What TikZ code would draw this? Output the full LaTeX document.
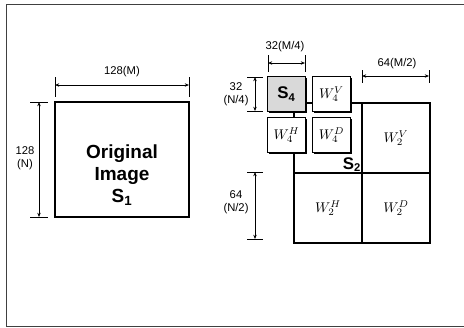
\documentclass[tikz,border=0pt]{standalone}
\usepackage{amsmath}
\usepackage{fontspec}
\setsansfont{Liberation Sans}
\usepackage{tikz}
\usetikzlibrary{arrows.meta,shadows,positioning}

\begin{document}
\begin{tikzpicture}[
    x=0.25mm, y=-0.25mm,
    >={Stealth[length=3pt,width=2.4pt]},
    line width=0.5pt,
    quad/.style={draw, line width=1.3pt, minimum width=17mm, minimum height=17.5mm, inner sep=0pt,
                 font=\fontsize{10}{12}\selectfont},
    subquad/.style={draw, fill=white, line width=0.6pt, minimum width=9.5mm, minimum height=8.75mm,
                 inner sep=0pt, font=\fontsize{10}{12}\selectfont,
                 drop shadow={shadow xshift=0.4mm, shadow yshift=-0.4mm, fill=black, opacity=1}},
    dimtext/.style={font=\sffamily\fontsize{8}{9.5}\selectfont, align=center, inner sep=0pt},
    bold/.style={font=\sffamily\bfseries\fontsize{13.5}{15.5}\selectfont, align=center, inner sep=0pt}
]
  \useasboundingbox (0,0) rectangle (464,327);
  % frame
  \draw[black!75, line width=0.6pt] (464,4) -- (6,4) -- (6,326) -- (464,326);

  % original image
  \node[draw, line width=1.4pt, minimum width=33.5mm, minimum height=28.75mm] (orig) at (122,159.5) {};
  \node[bold] (origtext) at (122,175) {Original\\Image\\S\textsubscript{1}};

  % level 2
  \node[quad] (S2)  at (328,138) {};
  \node[quad] (W2V) at (396,138) {$W^{V}_{2}$};
  \node[quad] (W2H) at (328,208) {$W^{H}_{2}$};
  \node[quad] (W2D) at (396,208) {$W^{D}_{2}$};
  \node[bold, font=\sffamily\bfseries\fontsize{12}{14}\selectfont, anchor=south east] (S2text)
      at ([xshift=-0.4mm, yshift=0.5mm]S2.south east) {S\textsubscript{2}};

  % level 4
  \node[subquad, fill=black!15] (S4) at (286.5,94) {\sffamily\bfseries\fontsize{12}{14}\selectfont S\textsubscript{4}};
  \node[subquad] (W4V) at (331.5,94)  {$W^{V}_{4}$};
  \node[subquad] (W4H) at (286.5,135) {$W^{H}_{4}$};
  \node[subquad] (W4D) at (331.5,135) {$W^{D}_{4}$};

  % dimensions of the original image
  \coordinate (mL) at (55,85);
  \coordinate (mR) at (189,85);
  \draw ([yshift=2mm]mL) -- ([yshift=-3mm]mL);
  \draw ([yshift=2mm]mR) -- ([yshift=-3mm]mR);
  \draw[<->] (mL) -- (mR);
  \node[dimtext] (mtext) at (122,72) {128(M)};

  \coordinate (nT) at (39,102);
  \coordinate (nB) at (39,217);
  \draw ([xshift=-2.25mm]nT) -- ([xshift=2.25mm]nT);
  \draw ([xshift=-2.25mm]nB) -- ([xshift=2.25mm]nB);
  \draw[<->] (nT) -- (nB);
  \node[dimtext] (ntext) at (25,158) {128\\(N)};

  % dimensions of the sub-bands
  \coordinate (m4L) at (268,63);
  \coordinate (m4R) at (305,63);
  \draw ([yshift=2mm]m4L) -- ([yshift=-2.25mm]m4L);
  \draw ([yshift=2mm]m4R) -- ([yshift=-2.25mm]m4R);
  \draw[<->] (m4L) -- (m4R);
  \node[dimtext] (m4text) at (285,47) {32(M/4)};

  \coordinate (n4T) at (255,77);
  \coordinate (n4B) at (255,111);
  \draw ([xshift=-2mm]n4T) -- ([xshift=2mm]n4T);
  \draw ([xshift=-2mm]n4B) -- ([xshift=2mm]n4B);
  \draw[<->] (n4T) -- (n4B);
  \node[dimtext] (n4text) at (236,94) {32\\(N/4)};

  \coordinate (m2L) at (362,76);
  \coordinate (m2R) at (429,76);
  \draw ([yshift=1.5mm]m2L) -- ([yshift=-1.75mm]m2L);
  \draw ([yshift=1.5mm]m2R) -- ([yshift=-1.75mm]m2R);
  \draw[<->] (m2L) -- (m2R);
  \node[dimtext] (m2text) at (397,64) {64(M/2)};

  \coordinate (n2T) at (255,172);
  \coordinate (n2B) at (255,239);
  \draw ([xshift=-2mm]n2T) -- ([xshift=2mm]n2T);
  \draw ([xshift=-2mm]n2B) -- ([xshift=2mm]n2B);
  \draw[<->] (n2T) -- (n2B);
  \node[dimtext] (n2text) at (236,202) {64\\(N/2)};
\end{tikzpicture}
\end{document}
